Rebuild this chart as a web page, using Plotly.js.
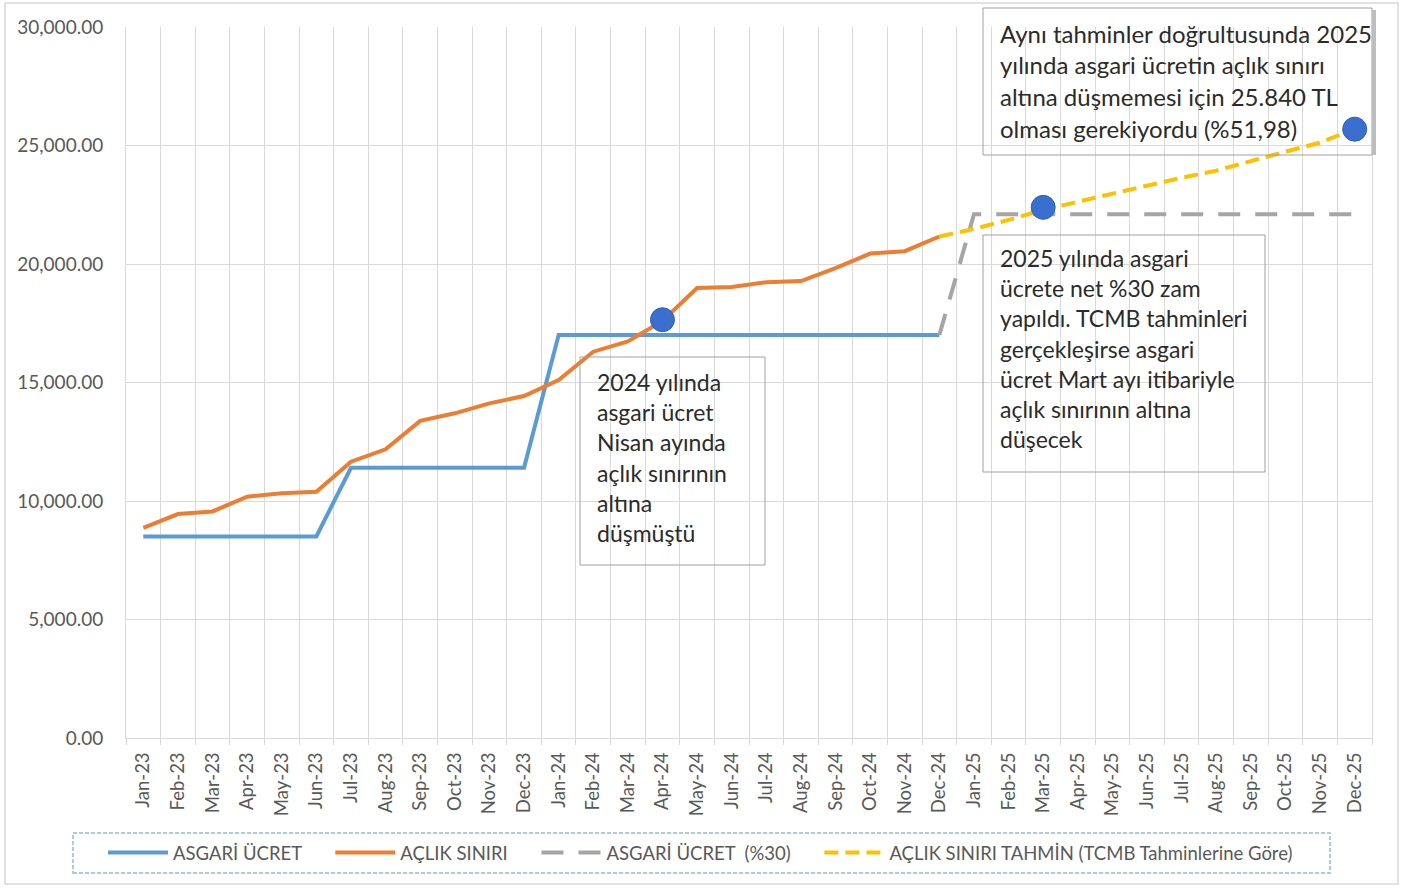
<!DOCTYPE html>
<html>
<head>
<meta charset="utf-8">
<script src="https://cdn.plot.ly/plotly-3.0.1.min.js"></script>
<style>
html,body{margin:0;padding:0;background:#fff;}
#chart{width:1413px;height:888px;}
</style>
</head>
<body>
<div id="chart"></div>
<script>
const months = ['Jan-23','Feb-23','Mar-23','Apr-23','May-23','Jun-23','Jul-23','Aug-23','Sep-23','Oct-23','Nov-23','Dec-23',
  'Jan-24','Feb-24','Mar-24','Apr-24','May-24','Jun-24','Jul-24','Aug-24','Sep-24','Oct-24','Nov-24','Dec-24',
  'Jan-25','Feb-25','Mar-25','Apr-25','May-25','Jun-25','Jul-25','Aug-25','Sep-25','Oct-25','Nov-25','Dec-25'];

const asgariUcret = [8506.80,8506.80,8506.80,8506.80,8506.80,8506.80,11402.32,11402.32,11402.32,11402.32,11402.32,11402.32,
  17002.12,17002.12,17002.12,17002.12,17002.12,17002.12,17002.12,17002.12,17002.12,17002.12,17002.12,17002.12,
  null,null,null,null,null,null,null,null,null,null,null,null];

const aclikSiniri = [8870,9450,9560,10180,10330,10390,11660,12180,13380,13700,14120,14430,
  15100,16300,16730,17600,18990,19030,19230,19280,19830,20440,20540,21160,
  null,null,null,null,null,null,null,null,null,null,null,null];

const asgari30 = [null,null,null,null,null,null,null,null,null,null,null,null,
  null,null,null,null,null,null,null,null,null,null,null,17002.12,
  22102.76,22102.76,22102.76,22102.76,22102.76,22102.76,22102.76,22102.76,22102.76,22102.76,22102.76,22102.76];

const aclikTahmin = [null,null,null,null,null,null,null,null,null,null,null,null,
  null,null,null,null,null,null,null,null,null,null,null,21160,
  21480,21860,22280,22630,22980,23300,23640,23940,24360,24740,25120,25700];

const dotMonths = ['Apr-24','Mar-25','Dec-25'];
const dotValues = [17650,22390,25690];

const seriesNames = ['ASGARİ ÜCRET','AÇLIK SINIRI','ASGARİ ÜCRET\u00a0\u00a0(%30)','AÇLIK SINIRI TAHMİN (TCMB Tahminlerine Göre)'];

const box1Lines = ['2024 yılında','asgari ücret','Nisan ayında','açlık sınırının','altına','düşmüştü'];
const box2Lines = ['2025 yılında asgari','ücrete net %30 zam','yapıldı. TCMB tahminleri','gerçekleşirse asgari','ücret Mart ayı itibariyle','açlık sınırının altına','düşecek'];
const box3Lines = ['Aynı tahminler doğrultusunda 2025','yılında asgari ücretin açlık sınırı','altına düşmemesi için 25.840 TL','olması gerekiyordu (%51,98)'];

// plot-area geometry (pixels) used to place decorations
const L = 126, R = 1372, T = 27, B = 738;
const px = v => (v - L) / (R - L);
const py = v => (B - v) / (B - T);

const FONT = 'Lato, "Open Sans", sans-serif';
const PAD = '\u00a0\u00a0\u00a0\u00a0\u00a0';

const traces = [
  {x: months, y: asgariUcret, name: seriesNames[0] + PAD, type: 'scatter', mode: 'lines',
   line: {color: '#5B9BD5', width: 4}},
  {x: months, y: aclikSiniri, name: seriesNames[1] + PAD, type: 'scatter', mode: 'lines',
   line: {color: '#ED7D31', width: 4}},
  {x: months, y: asgari30, name: seriesNames[2] + PAD, type: 'scatter', mode: 'lines',
   line: {color: '#A5A5A5', width: 4, dash: '22px,15px'}},
  {x: months, y: aclikTahmin, name: seriesNames[3], type: 'scatter', mode: 'lines',
   line: {color: '#FFC000', width: 4, dash: '14px,7px'}},
  {x: dotMonths, y: dotValues, type: 'scatter', mode: 'markers', showlegend: false,
   marker: {color: '#3A6FD0', size: 24, line: {color: '#2F5FB8', width: 1}}}
];

const shapes = [
  // outer chart border
  {type: 'rect', xref: 'paper', yref: 'paper', x0: px(5), x1: px(1398), y0: py(884), y1: py(3),
   line: {color: '#D9D9D9', width: 1.5}, fillcolor: 'rgba(0,0,0,0)', layer: 'below'},
  // legend dashed border
  {type: 'rect', xref: 'paper', yref: 'paper', x0: px(73), x1: px(1330), y0: py(873), y1: py(833),
   line: {color: '#8DBBE3', width: 1.5, dash: '4px,2px'}, fillcolor: 'rgba(0,0,0,0)'},
  // annotation boxes
  {type: 'rect', xref: 'paper', yref: 'paper', x0: px(580), x1: px(765), y0: py(565), y1: py(357),
   line: {color: '#A0A0A0', width: 1}, fillcolor: 'rgba(0,0,0,0)'},
  {type: 'rect', xref: 'paper', yref: 'paper', x0: px(983), x1: px(1265), y0: py(472), y1: py(235),
   line: {color: '#A0A0A0', width: 1}, fillcolor: 'rgba(0,0,0,0)'},
  {type: 'rect', xref: 'paper', yref: 'paper', x0: px(983), x1: px(1372), y0: py(155), y1: py(8),
   line: {color: '#A0A0A0', width: 1}, fillcolor: 'rgba(0,0,0,0)'},
  {type: 'rect', xref: 'paper', yref: 'paper', x0: px(1372), x1: px(1376), y0: py(155), y1: py(10),
   line: {width: 0}, fillcolor: '#BDBDBD'}
];

const annotations = [];
function addLines(lines, xLeft, yStart, step, size) {
  lines.forEach((t, i) => {
    annotations.push({xref: 'paper', yref: 'paper', x: px(xLeft), y: py(yStart + i * step),
      xanchor: 'left', yanchor: 'middle', showarrow: false, text: t, align: 'left',
      font: {family: FONT, size: size, color: '#2B2B2B'}});
  });
}
addLines(box1Lines, 595, 382, 30.2, 23);
addLines(box2Lines, 998, 258, 30.2, 23);
addLines(box3Lines, 998, 33, 31.7, 24);

const layout = {
  width: 1413, height: 888,
  margin: {l: L, r: 1413 - R, t: T, b: 888 - B},
  paper_bgcolor: '#FFFFFF', plot_bgcolor: '#FFFFFF',
  font: {family: FONT, color: '#595959'},
  showlegend: true,
  legend: {orientation: 'h', x: px(103), xanchor: 'left', y: py(853), yanchor: 'middle',
    font: {family: FONT, size: 18.5, color: '#595959'}, bgcolor: 'rgba(0,0,0,0)', itemwidth: 60},
  xaxis: {type: 'category', categoryorder: 'array', categoryarray: months,
    range: [-0.5, 35.5], tickson: 'boundaries', showgrid: true, gridcolor: '#D9D9D9', gridwidth: 1,
    ticks: 'outside', ticklen: 6, tickcolor: '#D9D9D9', tickangle: -90, ticklabelstandoff: 6,
    tickfont: {family: FONT, size: 18.5, color: '#595959'},
    showline: true, linecolor: '#D9D9D9', linewidth: 1, zeroline: false, fixedrange: true},
  yaxis: {range: [0, 30000], dtick: 5000, tick0: 0, tickformat: ',.2f',
    showgrid: true, gridcolor: '#D9D9D9', gridwidth: 1, zeroline: false, ticks: '',
    showline: true, mirror: true, linecolor: '#D9D9D9', linewidth: 1,
    ticklabelstandoff: 18, tickfont: {family: FONT, size: 19, color: '#595959'}, fixedrange: true},
  shapes: shapes,
  annotations: annotations
};

Plotly.newPlot('chart', traces, layout, {displayModeBar: false, staticPlot: true});
</script>
</body>
</html>
